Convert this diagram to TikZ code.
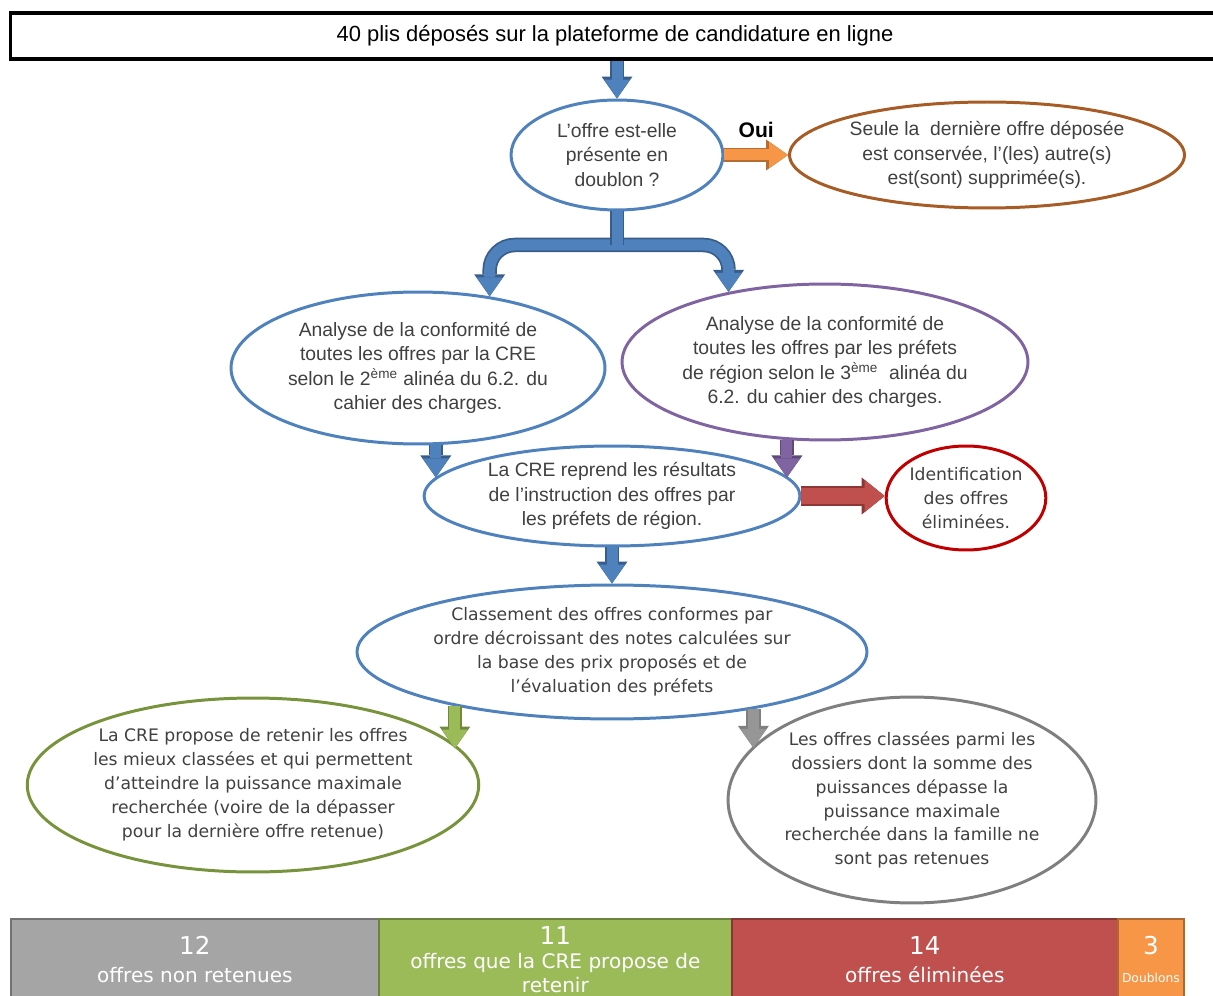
\documentclass[tikz,border=0pt]{standalone}
\usepackage{fontspec}
\setmainfont{Liberation Sans}
\newfontfamily\verdfont{DejaVu Sans}
\usetikzlibrary{shapes.geometric,arrows.meta}

\definecolor{bleu}{RGB}{79,129,189}
\definecolor{bleufonce}{RGB}{56,93,138}
\definecolor{orangeoff}{RGB}{247,150,70}
\definecolor{orangefonce}{RGB}{182,109,49}
\definecolor{brun}{RGB}{166,92,36}
\definecolor{violet}{RGB}{128,100,162}
\definecolor{violetfonce}{RGB}{94,73,120}
\definecolor{rougeoff}{RGB}{192,80,77}
\definecolor{rougefonce}{RGB}{140,56,54}
\definecolor{rougevif}{RGB}{192,0,0}
\definecolor{vertoff}{RGB}{155,187,89}
\definecolor{vertfonce}{RGB}{113,137,63}
\definecolor{vertbord}{RGB}{119,147,60}
\definecolor{grisbord}{RGB}{127,127,127}
\definecolor{grisfleche}{RGB}{150,150,150}
\definecolor{grisbarre}{RGB}{165,165,165}
\definecolor{texte}{RGB}{64,64,64}

\begin{document}
\begin{tikzpicture}[x=0.02cm,y=-0.02cm,
    bulle/.style={ellipse,draw=#1,line width=1.7pt,inner sep=0pt,align=center,text=texte,
        font=\fontsize{11}{13.8}\selectfont},
    bullev/.style={bulle=#1,font=\verdfont\fontsize{9.8}{13.6}\selectfont},
    fleche/.style 2 args={preaction={draw=#2,line width=0.29cm,-{Triangle[width=0.62cm,length=0.44cm,line width=0pt]}},
        draw=#1,line width=0.22cm,-{Triangle[width=0.52cm,length=0.38cm,line width=0pt]}},
    flechelarge/.style 2 args={preaction={draw=#2,line width=0.4cm,-{Triangle[width=0.74cm,length=0.46cm,line width=0pt]}},
        draw=#1,line width=0.32cm,-{Triangle[width=0.64cm,length=0.4cm,line width=0pt]}},
    tige/.style 2 args={preaction={draw=#2,line width=0.29cm},draw=#1,line width=0.22cm},
    case/.style={rectangle,draw=#1!70!black,fill=#1,line width=1pt,anchor=north west,
        minimum height=1.64cm,inner sep=0pt,text=white,align=center,
        font=\verdfont\fontsize{11.4}{16}\selectfont}]
    \useasboundingbox (0,0) rectangle (1213,996);

    \node[draw=black,line width=1.8pt,minimum width=24.2cm,minimum height=0.92cm,inner sep=0pt,
        font=\fontsize{12.5}{15}\selectfont] (depot) at (615,36)
        {40 plis déposés sur la plateforme de candidature en ligne};

    \node[bulle=bleu,minimum width=4.24cm,minimum height=2.2cm] (doublon) at (617,155)
        {L’offre est-elle\\présente en\\doublon ?};
    \node[bulle=brun,minimum width=7.9cm,minimum height=2.12cm] (seule) at (987,155)
        {Seule la\ \ dernière offre déposée\\est conservée, l’(les) autre(s)\\est(sont) supprimée(s).};

    \node[bulle=bleu,minimum width=7.48cm,minimum height=3.04cm] (crea) at (418,368)
        {Analyse de la conformité de\\toutes les offres par la CRE\\selon le 2\textsuperscript{ème} alinéa du 6.2. du\\cahier des charges.};
    \node[bulle=violet,minimum width=8.12cm,minimum height=3.12cm] (prefa) at (825,362)
        {Analyse de la conformité de\\toutes les offres par les préfets\\de région selon le 3\textsuperscript{ème}\ \ alinéa du\\6.2. du cahier des charges.};

    \node[bulle=bleu,minimum width=7.52cm,minimum height=2cm] (reprend) at (612,496)
        {La CRE reprend les résultats\\de l’instruction des offres par\\les préfets de région.};
    \node[bullev=rougevif,minimum width=3.08cm,minimum height=2.08cm] (ident) at (966,498)
        {Identification\\des offres\\éliminées.};

    \node[bullev=bleu,minimum width=10.2cm,minimum height=2.68cm] (classement) at (612,652)
        {Classement des offres conformes par\\ordre décroissant des notes calculées sur\\la base des prix proposés et de\\l’évaluation des préfets};

    \node[bullev=vertbord,minimum width=8.92cm,minimum height=3.48cm] (retenir) at (253,785)
        {La CRE propose de retenir les offres\\les mieux classées et qui permettent\\d’atteindre la puissance maximale\\recherchée (voire de la dépasser\\pour la dernière offre retenue)};
    \node[bullev=grisbord,minimum width=7.36cm,minimum height=4.12cm] (nonret) at (912,800)
        {Les offres classées parmi les\\dossiers dont la somme des\\puissances dépasse la\\puissance maximale\\recherchée dans la famille ne\\sont pas retenues};

    \draw[fleche={bleu}{bleufonce}] (depot.south -| doublon.north) -- (doublon.north);
    \draw[fleche={orangeoff}{orangefonce}] (doublon.east) -- (seule.west)
        node[midway,above=0.12cm,text=black,font=\bfseries\fontsize{12}{14}\selectfont] {Oui};

    \coordinate (split) at (617,245);
    \draw[fleche={bleu}{bleufonce},rounded corners=0.5cm] (split) -| (crea.45);
    \draw[fleche={bleu}{bleufonce},rounded corners=0.5cm] (split) -| (prefa.144);
    \draw[tige={bleu}{bleufonce}] (doublon.south) -- (split);

    \draw[fleche={bleu}{bleufonce}] (crea.283) -- (crea.283 |- reprend.174);
    \draw[fleche={violet}{violetfonce}] (prefa.244) -- (prefa.244 |- reprend.6);
    \draw[flechelarge={rougeoff}{rougefonce}] (reprend.east) -- (reprend.east -| ident.west);
    \draw[fleche={bleu}{bleufonce}] (reprend.south) -- (classement.north);
    \draw[fleche={vertoff}{vertfonce}] (classement.199) -- (classement.199 |- retenir.10);
    \draw[fleche={grisfleche}{grisbord}] (classement.338) -- (classement.338 |- nonret.162);

    \node[case=grisbarre,minimum width=7.36cm] (bilannon) at (10,918)
        {{\fontsize{14}{16}\selectfont 12}\\offres non retenues};
    \node[case=vertoff,minimum width=7.06cm,font=\verdfont\fontsize{11.4}{13.8}\selectfont] (bilanret) at (378,918)
        {{\fontsize{14}{16}\selectfont 11}\\offres que la CRE propose de\\retenir};
    \node[case=rougeoff,minimum width=7.72cm] (bilanelim) at (731,918)
        {{\fontsize{14}{16}\selectfont 14}\\offres éliminées};
    \node[case=orangeoff,minimum width=1.32cm] (bilandoub) at (1117,918)
        {{\fontsize{14}{16}\selectfont 3}\\{\fontsize{7}{8}\selectfont Doublons}};
\end{tikzpicture}
\end{document}
